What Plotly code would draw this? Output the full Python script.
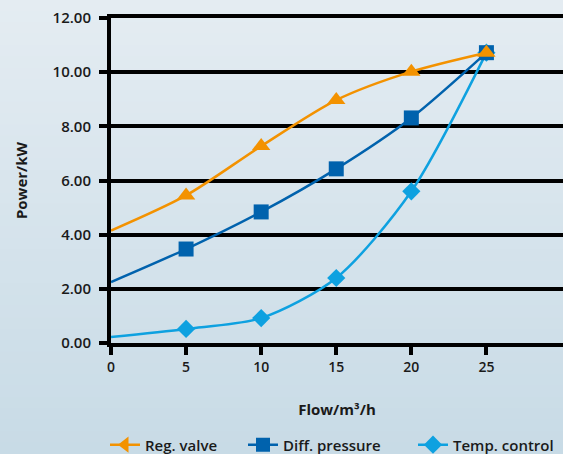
import plotly.graph_objects as go

flow = [0, 5, 10, 15, 20, 25]
reg_valve = [4.15, 5.45, 7.27, 8.97, 10.02, 10.72]
diff_pressure = [2.25, 3.47, 4.84, 6.43, 8.31, 10.72]
temp_control = [0.22, 0.52, 0.92, 2.40, 5.60, 10.72]
y_ticks = [0, 2, 4, 6, 8, 10, 12]
x_ticks = [0, 5, 10, 15, 20, 25]

series = [
    ("Reg. valve", reg_valve, "#f39200", "triangle-up", "triangle-left", 16, "legend", 105),
    ("Diff. pressure", diff_pressure, "#0062ad", "square", "square", 15, "legend2", 243),
    ("Temp. control", temp_control, "#0ea1e0", "diamond", "diamond", 14, "legend3", 413),
]

W, H = 563, 454
ml, mr, mt, mb = 111, 0, 18, 111

fig = go.Figure()
for name, vals, color, sym, legsym, size, leg, lx in reversed(series):
    sizes = [0] + [size] * (len(vals) - 1)
    fig.add_trace(go.Scatter(
        x=flow, y=vals, mode="lines+markers", name=name, showlegend=False,
        line=dict(color=color, width=2.5, shape="spline", smoothing=0.8),
        marker=dict(symbol=sym, size=sizes, color=color, opacity=1, line=dict(width=0)),
    ))
for name, vals, color, sym, legsym, size, leg, lx in series:
    fig.add_trace(go.Scatter(
        x=[None], y=[None], mode="lines+markers", name=name, legend=leg,
        line=dict(color=color, width=2.5),
        marker=dict(symbol=legsym, size=14, color=color, opacity=1, line=dict(width=0)),
    ))

# gradient background bands
pw = W - ml - mr
ph = H - mt - mb
n = 40
top = (228, 236, 242)
bot = (200, 219, 230)
shapes = []
x0 = -ml / pw
x1 = 1 + mr / pw
ylo = -mb / ph
yhi = 1 + mt / ph
for i in range(n):
    t = i / (n - 1)
    c = tuple(int(round(top[k] + (bot[k] - top[k]) * t)) for k in range(3))
    ya = yhi - (yhi - ylo) * i / n
    yb = yhi - (yhi - ylo) * (i + 1) / n
    shapes.append(dict(type="rect", xref="paper", yref="paper", x0=x0, x1=x1,
                       y0=yb - 0.002, y1=ya + 0.002, layer="below",
                       line=dict(width=0), fillcolor="rgb(%d,%d,%d)" % c))

font_family = "Open Sans"
legends = {}
for name, vals, color, sym, legsym, size, leg, lx in series:
    legends[leg] = dict(
        orientation="h", x=lx / W, xref="container", y=0.02, yref="container",
        yanchor="middle", xanchor="left",
        font=dict(size=15, family=font_family, weight=600),
        bgcolor="rgba(0,0,0,0)", itemwidth=30,
    )

fig.update_layout(
    width=W, height=H,
    margin=dict(l=ml, r=mr, t=mt, b=mb),
    paper_bgcolor="rgb(214,227,236)",
    plot_bgcolor="rgba(0,0,0,0)",
    shapes=shapes,
    font=dict(family=font_family, size=14, color="#1a1a1a", weight=700),
    xaxis=dict(
        range=[0, 30.1], tickvals=x_ticks, ticktext=[str(v) for v in x_ticks],
        showgrid=False, zeroline=False,
        showline=True, linecolor="black", linewidth=4, mirror=True,
        ticks="outside", ticklen=8, tickwidth=4, tickcolor="black",
        tickfont=dict(size=14, family=font_family, weight=600),
        title=dict(text="Flow/m³/h", font=dict(size=15, family=font_family, weight=700), standoff=31),
    ),
    yaxis=dict(
        range=[0, 12], tickvals=y_ticks, tickformat=".2f",
        showgrid=True, gridcolor="black", gridwidth=4, zeroline=False,
        showline=True, linecolor="black", linewidth=4,
        ticks="outside", ticklen=8, tickwidth=4, tickcolor="black",
        ticklabelstandoff=5,
        tickfont=dict(size=15, family=font_family, weight=600),
        title=dict(text="Power/kW", font=dict(size=15, family=font_family, weight=700), standoff=22),
    ),
    **legends,
)

fig.write_html("out.html", config={"displayModeBar": False},
               post_script="document.body.style.margin='0';document.body.style.overflow='hidden';")
